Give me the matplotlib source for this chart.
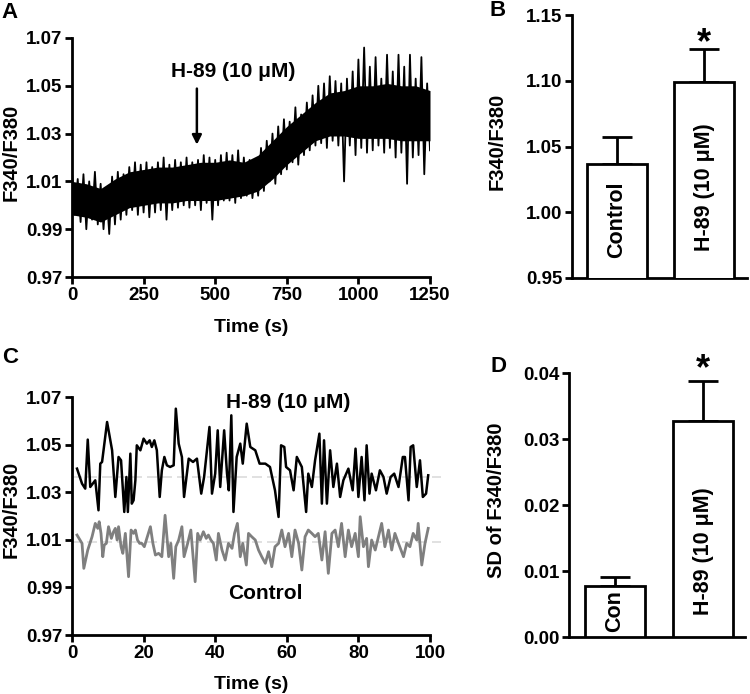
import numpy as np
import matplotlib
matplotlib.use("Agg")
import matplotlib.pyplot as plt
from matplotlib.ticker import FormatStrFormatter

plt.rcParams["font.family"] = ["Liberation Sans", "DejaVu Sans"]
plt.rcParams["font.weight"] = "bold"
plt.rcParams["axes.labelweight"] = "bold"

# ---- panel A: whole recording, upper and lower excursions
a_hi = [1.014, 1.011, 1.013, 1.010, 1.014, 1.009, 1.007, 1.012, 1.014, 1.013,
        1.016, 1.018, 1.017, 1.018, 1.016, 1.018, 1.020, 1.017, 1.019, 1.018,
        1.020, 1.018, 1.019, 1.021, 1.020, 1.019, 1.021, 1.022, 1.021, 1.023,
        1.020, 1.019, 1.016, 1.024, 1.027, 1.030, 1.033, 1.036, 1.035, 1.041,
        1.038, 1.043, 1.046, 1.050, 1.051, 1.054, 1.052, 1.051, 1.053, 1.056,
        1.061, 1.066, 1.058, 1.062, 1.053, 1.063, 1.056, 1.063, 1.058, 1.063,
        1.053, 1.062, 1.051]
a_lo = [0.996, 0.993, 0.990, 0.994, 0.992, 0.990, 0.988, 0.992, 0.994, 0.996,
        0.998, 0.996, 0.997, 0.995, 0.997, 0.998, 0.994, 0.998, 0.999, 1.000,
        0.999, 1.000, 0.998, 1.001, 0.994, 1.000, 1.002, 1.002, 1.001, 1.003,
        1.004, 1.003, 1.004, 1.006, 1.010, 1.009, 1.013, 1.015, 1.018, 1.017,
        1.021, 1.023, 1.025, 1.026, 1.024, 1.027, 1.025, 1.010, 1.025, 1.021,
        1.024, 1.022, 1.023, 1.025, 1.022, 1.024, 1.020, 1.022, 1.009, 1.020,
        1.021, 1.013, 1.023]
a_hi_t = np.arange(0, 1241, 20)
a_lo_t = np.arange(10, 1251, 20)
# dense (solid black) part of the trace, read every 50 s
a_core_t = np.arange(0, 1251, 50)
a_core_hi = [1.010, 1.009, 1.007, 1.011, 1.014, 1.015, 1.016, 1.016, 1.017,
             1.018, 1.018, 1.019, 1.018, 1.021, 1.027, 1.033, 1.038, 1.043,
             1.047, 1.048, 1.050, 1.050, 1.051, 1.050, 1.050, 1.048]
a_core_lo = [0.996, 0.995, 0.993, 0.996, 0.999, 1.000, 1.001, 1.001, 1.002,
             1.002, 1.002, 1.003, 1.004, 1.006, 1.011, 1.017, 1.022, 1.027,
             1.029, 1.029, 1.028, 1.028, 1.028, 1.027, 1.027, 1.027]
h89_add_time = 436

# ---- panel B
b_labels = ["Control", "H-89 (10 \u03bcM)"]
b_means = [1.037, 1.099]
b_sem = [0.020, 0.025]

# ---- panel C: 100 s excerpts
c_h89_t = [1.4, 2.8, 3.7, 4.4, 5.1, 6.5, 7.4, 7.9, 8.4, 9.8, 11.2, 12.1, 13.0, 13.7,
           14.6, 15.2, 15.6, 16.3, 16.7, 17.2, 17.7, 18.1, 19.1, 20.0, 20.9, 21.7,
           22.3, 23.0, 23.7, 24.5, 25.1, 25.8, 26.5, 27.4, 28.4, 29.0, 29.8, 30.7,
           31.3, 32.6, 33.8, 34.9, 36.1, 36.9, 38.4, 39.1, 40.0, 40.7, 41.4, 42.5,
           43.3, 43.8, 44.5, 45.1, 46.0, 47.0, 47.7, 48.8, 49.8, 51.2, 52.4, 54.0,
           55.3, 56.7, 57.7, 58.4, 59.3, 59.8, 60.9, 61.9, 62.8, 64.2, 65.4, 66.0,
           67.0, 67.9, 69.1, 69.8, 70.4, 71.2, 72.1, 73.0, 74.0, 74.9, 75.8, 77.2,
           78.4, 79.2, 80.0, 80.9, 81.7, 82.3, 83.1, 83.7, 84.9, 86.0, 87.0, 87.9,
           89.0, 90.0, 91.2, 92.4, 93.0, 94.0, 94.6, 95.3, 96.3, 97.2, 98.0, 98.9,
           99.5]
c_h89 = [1.0399, 1.0336, 1.0315, 1.0521, 1.0322, 1.0350, 1.0224, 1.0420, 1.0427,
         1.0595, 1.0476, 1.0280, 1.0448, 1.0434, 1.0217, 1.0364, 1.0217, 1.0462,
         1.0252, 1.0266, 1.0350, 1.0497, 1.0476, 1.0525, 1.0504, 1.0518, 1.0490,
         1.0518, 1.0476, 1.0280, 1.0392, 1.0448, 1.0413, 1.0406, 1.0413, 1.0651,
         1.0504, 1.0448, 1.0280, 1.0441, 1.0427, 1.0441, 1.0294, 1.0364, 1.0574,
         1.0294, 1.0378, 1.0560, 1.0322, 1.0560, 1.0378, 1.0308, 1.0623, 1.0217,
         1.0448, 1.0504, 1.0420, 1.0588, 1.0490, 1.0476, 1.0420, 1.0420, 1.0406,
         1.0308, 1.0196, 1.0497, 1.0490, 1.0406, 1.0392, 1.0308, 1.0448, 1.0406,
         1.0217, 1.0378, 1.0322, 1.0434, 1.0546, 1.0252, 1.0518, 1.0252, 1.0476,
         1.0322, 1.0420, 1.0280, 1.0350, 1.0399, 1.0308, 1.0483, 1.0280, 1.0448,
         1.0266, 1.0497, 1.0294, 1.0378, 1.0308, 1.0392, 1.0364, 1.0294, 1.0364,
         1.0378, 1.0322, 1.0448, 1.0448, 1.0266, 1.0490, 1.0497, 1.0322, 1.0434,
         1.0280, 1.0294, 1.0371]
c_ctrl_t = [1.4, 2.8, 3.3, 4.4, 5.6, 6.5, 7.2, 7.6, 8.1, 8.6, 9.0, 9.6, 10.2, 11.0,
            11.6, 12.1, 12.6, 13.0, 13.7, 14.2, 14.9, 15.8, 16.5, 17.2, 17.7, 18.3,
            18.9, 19.5, 20.2, 20.9, 21.9, 22.6, 23.3, 24.2, 25.1, 26.0, 27.0, 27.6,
            28.4, 29.0, 29.8, 30.7, 31.3, 32.3, 33.2, 34.4, 35.1, 35.8, 36.7, 37.5,
            38.1, 38.8, 39.5, 40.3, 40.9, 41.9, 42.8, 43.7, 44.7, 45.4, 46.2, 47.0,
            47.7, 48.7, 49.3, 50.2, 51.2, 52.1, 53.0, 54.0, 54.9, 55.8, 56.7, 57.7,
            58.6, 59.5, 60.5, 61.4, 62.3, 63.3, 64.2, 65.1, 66.0, 67.0, 67.9, 68.8,
            69.8, 70.7, 71.6, 72.6, 73.5, 74.4, 75.3, 76.3, 77.2, 78.1, 79.1, 80.0,
            80.5, 81.4, 82.3, 82.8, 83.7, 84.7, 85.6, 86.5, 87.4, 88.4, 89.3, 90.2,
            91.2, 92.6, 93.5, 94.4, 95.3, 96.3, 96.7, 97.7, 98.6, 99.5]
c_ctrl = [1.0120, 1.0085, 0.9980, 1.0057, 1.0113, 1.0169, 1.0148, 1.0176, 1.0127,
          1.0029, 1.0078, 1.0085, 1.0155, 1.0106, 1.0134, 1.0148, 1.0099, 1.0155,
          1.0071, 1.0043, 1.0127, 0.9945, 1.0141, 1.0127, 1.0141, 1.0099, 1.0085,
          1.0085, 1.0071, 1.0106, 1.0155, 1.0085, 1.0036, 1.0043, 1.0029, 1.0203,
          1.0029, 1.0085, 0.9938, 1.0071, 1.0099, 1.0155, 1.0029, 1.0085, 1.0141,
          0.9924, 1.0127, 1.0099, 1.0134, 1.0106, 1.0120, 1.0099, 1.0085, 1.0015,
          1.0127, 1.0057, 1.0015, 1.0085, 1.0064, 1.0127, 1.0169, 1.0029, 1.0085,
          0.9994, 1.0127, 1.0113, 1.0099, 1.0057, 1.0029, 1.0001, 1.0050, 0.9987,
          1.0071, 1.0085, 1.0141, 1.0071, 1.0127, 1.0029, 1.0141, 1.0085, 0.9973,
          1.0113, 1.0141, 1.0127, 1.0113, 1.0127, 1.0015, 1.0134, 0.9959, 1.0127,
          1.0141, 1.0071, 1.0169, 1.0029, 1.0141, 1.0071, 1.0127, 1.0029, 1.0197,
          1.0071, 1.0106, 0.9987, 1.0099, 1.0057, 1.0113, 1.0169, 1.0071, 1.0141,
          1.0057, 1.0127, 1.0085, 1.0029, 1.0085, 1.0071, 1.0127, 1.0099, 1.0169,
          0.9994, 1.0085, 1.0148]
c_h89_mean = 1.0365
c_ctrl_mean = 1.0090

# ---- panel D
d_labels = ["Con", "H-89 (10 \u03bcM)"]
d_means = [0.0078, 0.0328]
d_sem = [0.0013, 0.0060]

W, H = 750, 694
fig = plt.figure(figsize=(7.5, 6.94), dpi=100)


def px_axes(l, t, r, b):
    return fig.add_axes([l / W, 1 - b / H, (r - l) / W, (b - t) / H])


def style(ax):
    for s in ["top", "right"]:
        ax.spines[s].set_visible(False)
    for s in ["left", "bottom"]:
        ax.spines[s].set_linewidth(2)
    ax.tick_params(width=2, length=5, labelsize=13.5, pad=2)
    for lab in ax.get_xticklabels() + ax.get_yticklabels():
        lab.set_fontweight("bold")


tick_font = dict(fontsize=14, fontweight="bold")
note_font = dict(fontsize=15, fontweight="bold")
bar_font = dict(fontsize=15.5, fontweight="bold")

# ---------- A
axA = px_axes(72, 38, 430, 277)
a_t = np.empty(len(a_hi_t) + len(a_lo_t))
a_v = np.empty_like(a_t)
a_t[0::2], a_t[1::2] = a_hi_t, a_lo_t
a_v[0::2], a_v[1::2] = a_hi, a_lo
axA.fill_between(a_core_t, a_core_lo, a_core_hi, color="black", lw=0)
axA.plot(a_t, a_v, color="black", lw=1.3)
axA.set_xlim(0, 1250)
axA.set_ylim(0.97, 1.07)
axA.set_xticks([0, 250, 500, 750, 1000, 1250])
axA.set_yticks([0.97, 0.99, 1.01, 1.03, 1.05, 1.07])
axA.set_xlabel("Time (s)", **tick_font, labelpad=11)
axA.annotate("", xy=(h89_add_time, 1.0242), xytext=(h89_add_time, 1.0500),
             arrowprops=dict(arrowstyle="-|>", color="black", lw=1.8,
                             mutation_scale=14))
axA.text(562, 1.0558, "H-89 (10 \u03bcM)", ha="center", va="center", **note_font)
style(axA)

# ---------- B
axB = px_axes(572, 15, 747, 278)
xb = np.arange(len(b_means))
axB.bar(xb, b_means, width=0.69, color="white", edgecolor="black", lw=2,
        zorder=3)
axB.errorbar(xb, b_means, yerr=[[0, 0], b_sem], fmt="none", ecolor="black",
             elinewidth=2, capsize=11, capthick=2, zorder=2)
axB.set_xlim(-0.517, 1.494)
axB.set_ylim(0.95, 1.15)
axB.set_yticks([0.95, 1.00, 1.05, 1.10, 1.15])
axB.yaxis.set_major_formatter(FormatStrFormatter("%.2f"))
axB.set_xticks([])
axB.text(0, 0.994, b_labels[0], rotation=90, ha="center", va="center",
         zorder=4, **bar_font)
axB.text(1, 1.019, b_labels[1], rotation=90, ha="center", va="center",
         zorder=4, **bar_font)
axB.text(1, 1.128, "*", ha="center", va="center", fontsize=26,
         fontweight="bold")
style(axB)

# ---------- C
axC = px_axes(72, 397, 430, 635)
axC.plot([0, 103], [c_h89_mean, c_h89_mean], color="#dcdcdc", lw=1.2,
         ls=(0, (6, 3)), clip_on=False, zorder=1)
axC.plot([0, 103], [c_ctrl_mean, c_ctrl_mean], color="#dcdcdc", lw=1.2,
         ls=(0, (6, 3)), clip_on=False, zorder=1)
axC.plot(c_ctrl_t, c_ctrl, color="#7f7f7f", lw=2.0, zorder=2)
axC.plot(c_h89_t, c_h89, color="black", lw=1.8, zorder=2)
axC.set_xlim(0, 100)
axC.set_ylim(0.97, 1.07)
axC.set_xticks([0, 20, 40, 60, 80, 100])
axC.set_yticks([0.97, 0.99, 1.01, 1.03, 1.05, 1.07])
axC.set_xlabel("Time (s)", **tick_font, labelpad=10)
axC.text(60.5, 1.0675, "H-89 (10 \u03bcM)", ha="center", va="center", **note_font)
axC.text(54.1, 0.9875, "Control", ha="center", va="center", **note_font)
style(axC)

# ---------- D
axD = px_axes(569, 373, 745, 637)
xd = np.arange(len(d_means))
axD.bar(xd, d_means, width=0.68, color="white", edgecolor="black", lw=2,
        zorder=3)
axD.errorbar(xd, d_means, yerr=[[0, 0], d_sem], fmt="none", ecolor="black",
             elinewidth=2, capsize=11, capthick=2, zorder=2)
axD.set_xlim(-0.523, 1.477)
axD.set_ylim(0, 0.04)
axD.set_yticks([0, 0.01, 0.02, 0.03, 0.04])
axD.yaxis.set_major_formatter(FormatStrFormatter("%.2f"))
axD.set_xticks([])
axD.text(0, 0.0039, d_labels[0], rotation=90, ha="center", va="center",
         zorder=4, **bar_font)
axD.text(1, 0.0130, d_labels[1], rotation=90, ha="center", va="center",
         zorder=4, **bar_font)
axD.text(1, 0.0405, "*", ha="center", va="center", fontsize=26,
         fontweight="bold")
style(axD)

# y labels and panel letters
ylab = dict(rotation=90, ha="center", va="center", fontsize=14.5,
            fontweight="bold")
fig.text(11 / W, 1 - 152 / H, "F340/F380", **ylab)
fig.text(497 / W, 1 - 141 / H, "F340/F380", **ylab)
fig.text(11 / W, 1 - 509 / H, "F340/F380", **ylab)
fig.text(497 / W, 1 - 500 / H, "SD of F340/F380", **ylab)

letter = dict(ha="center", va="center", fontsize=16, fontweight="bold")
fig.text(10 / W, 1 - 12 / H, "A", **letter)
fig.text(498 / W, 1 - 10 / H, "B", **letter)
fig.text(10 / W, 1 - 358 / H, "C", **letter)
fig.text(498 / W, 1 - 366 / H, "D", **letter)

fig.savefig("out.png", dpi=100)
